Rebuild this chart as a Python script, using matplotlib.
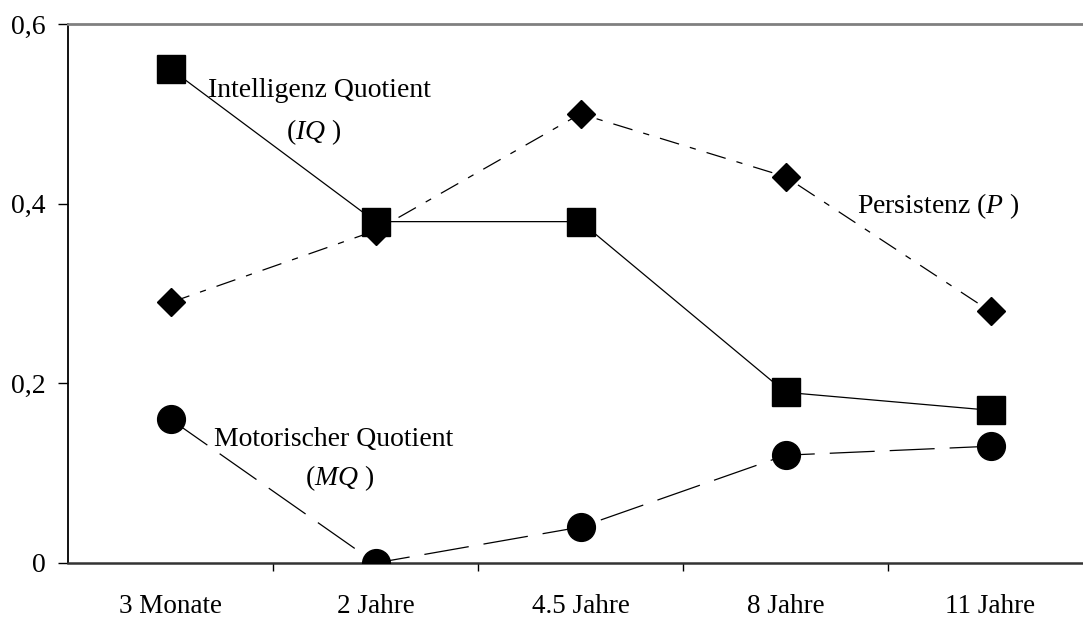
import numpy as np
import matplotlib
matplotlib.use("Agg")
import matplotlib.pyplot as plt

categories = ["3 Monate", "2 Jahre", "4.5 Jahre", "8 Jahre", "11 Jahre"]
iq_values = [0.55, 0.38, 0.38, 0.19, 0.17]
p_values = [0.29, 0.37, 0.50, 0.43, 0.28]
mq_values = [0.16, 0.0, 0.04, 0.12, 0.13]
y_ticks = [0, 0.2, 0.4, 0.6]
y_tick_labels = ["0", "0,2", "0,4", "0,6"]

plt.rcParams["font.family"] = ["Liberation Serif", "DejaVu Serif"]
plt.rcParams["mathtext.fontset"] = "custom"
plt.rcParams["mathtext.it"] = "Liberation Serif:italic"
plt.rcParams["mathtext.rm"] = "Liberation Serif"

fig = plt.figure(figsize=(10.83, 6.18), dpi=100)
ax = fig.add_axes([68 / 1083, 1 - 563 / 618, 1 - 68 / 1083, (563 - 24) / 618])

x = np.arange(len(categories))

# Persistenz: dash-dot
ax.plot(x, p_values, color="black", lw=0.9, dashes=(16, 9, 5, 9),
        marker="D", ms=14.5, mfc="black", mec="black", zorder=3)
# Motorischer Quotient: long dashes
ax.plot(x, mq_values, color="black", lw=0.9, dashes=(36, 12),
        marker="o", ms=20, mfc="black", mec="black", zorder=3)
# Intelligenz Quotient: solid
ax.plot(x, iq_values, color="black", lw=0.9, linestyle="-",
        marker="s", ms=20, mfc="black", mec="black", zorder=4)

ax.set_xlim(-0.5, -0.5 + 1015 / 205)
ax.set_ylim(0, 0.6)

ax.set_yticks(y_ticks)
ax.set_yticklabels(y_tick_labels, fontsize=20)
ax.set_xticks(x)
ax.set_xticklabels(categories, fontsize=19.5)
ax.set_xticks(np.arange(0.5, len(categories) - 0.5, 1), minor=True)
ax.tick_params(axis="x", which="major", length=0, pad=22)
ax.tick_params(axis="x", which="minor", length=6, width=1, direction="out", color="black")
ax.tick_params(axis="y", which="major", length=7, width=1, direction="out", pad=9)

ax.spines["top"].set_color("#808080")
ax.spines["top"].set_linewidth(2)
ax.spines["right"].set_visible(False)
ax.spines["left"].set_color("black")
ax.spines["left"].set_linewidth(1.3)
ax.spines["bottom"].set_color("#333333")
ax.spines["bottom"].set_linewidth(1.8)

fs = 20
ax.text(0.727, 0.526, "Intelligenz Quotient", fontsize=fs, ha="center", va="center")
ax.text(0.70, 0.480, r"($IQ$ )", fontsize=fs, ha="center", va="center")
ax.text(3.746, 0.397, r"Persistenz ($P$ )", fontsize=fs, ha="center", va="center")
ax.text(0.795, 0.138, "Motorischer Quotient", fontsize=fs, ha="center", va="center")
ax.text(0.826, 0.094, r"($MQ$ )", fontsize=fs, ha="center", va="center")

fig.savefig("out.png", dpi=100)
